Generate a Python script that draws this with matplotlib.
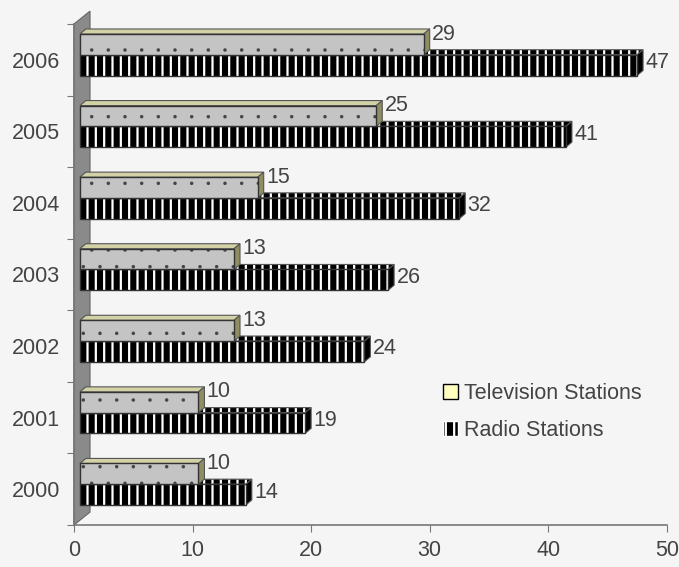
import matplotlib.pyplot as plt
from matplotlib.patches import Polygon, Rectangle, Patch

years = ['2000', '2001', '2002', '2003', '2004', '2005', '2006']
tv = [10, 10, 13, 13, 15, 25, 29]
radio = [14, 19, 24, 26, 32, 41, 47]

plt.rcParams['font.family'] = ['Liberation Sans', 'DejaVu Sans']
plt.rcParams['hatch.linewidth'] = 1.6
txt = '#444444'
bg = '#f5f5f5'

fig = plt.figure(figsize=(6.79, 5.67), dpi=100, facecolor=bg)
ax = fig.add_axes([0.109, 0.0741, 0.873, 0.8836], facecolor=bg)
ax.set_xlim(0, 50)
ax.set_ylim(-0.5, 6.5)

# 3d offsets (data units)
ox, oy = 0.5, 0.07     # front plane shift
dx, dy = 0.5, 0.07     # bar depth
h = 0.29

# back wall
wall = Polygon([(0, -0.5), (1.35, -0.32), (1.35, 6.68), (0, 6.5)],
               closed=True, facecolor='#8a8a8a', edgecolor='#666666',
               lw=0.8, clip_on=False, zorder=1)
ax.add_patch(wall)


def bar3d(x0, x1, y0, y1, front, top, side, hatch, hcol, z, hlw):
    # top face
    ax.add_patch(Polygon([(x0, y1), (x1, y1), (x1 + dx, y1 + dy), (x0 + dx, y1 + dy)],
                         facecolor=top, edgecolor=hcol if hatch == '||' else '#707050',
                         hatch=hatch if hatch == '||' else None, lw=0, zorder=z, clip_on=False))
    ax.add_patch(Polygon([(x0, y1), (x1, y1), (x1 + dx, y1 + dy), (x0 + dx, y1 + dy)],
                         fill=False, edgecolor='#555555', lw=0.8, zorder=z, clip_on=False))
    # side face
    ax.add_patch(Polygon([(x1, y0), (x1, y1), (x1 + dx, y1 + dy), (x1 + dx, y0 + dy)],
                         facecolor=side, edgecolor='#555555', lw=0.8, zorder=z, clip_on=False))
    # front face
    p = Rectangle((x0, y0), x1 - x0, y1 - y0, facecolor=front,
                  edgecolor=hcol, hatch=hatch, lw=0, zorder=z + 0.1)
    if hasattr(p, 'set_hatch_linewidth'):
        p.set_hatch_linewidth(hlw)
    ax.add_patch(p)
    ax.add_patch(Rectangle((x0, y0), x1 - x0, y1 - y0, fill=False,
                           edgecolor='#333333', lw=1.0, zorder=z + 0.2))


for i in range(len(years)):
    c = i
    z = 10 + (len(years) - i) * 2
    bar3d(ox, ox + radio[i], c - h + oy, c + oy, 'black', 'black', 'black', '||', 'white', z, 1.6)
    bar3d(ox, ox + tv[i], c + oy, c + h + oy, '#c4c4c4', '#d2d2a6', '#8e8e62', '.', '#444444', z + 1, 0.1)
    ax.text(tv[i] + 1.2, c + 0.36, str(tv[i]), fontsize=15.5, color=txt,
            ha='left', va='center', zorder=40)
    ax.text(radio[i] + 1.2, c - 0.04, str(radio[i]), fontsize=15.5, color=txt,
            ha='left', va='center', zorder=40)

# axes styling
for s in ['top', 'right']:
    ax.spines[s].set_visible(False)
for s in ['left', 'bottom']:
    ax.spines[s].set_color('#777777')
    ax.spines[s].set_linewidth(1.2)
ax.set_xticks(range(0, 51, 10))
ax.tick_params(axis='x', length=5, color='#777777', labelsize=15.5,
               labelcolor=txt, pad=6)
ax.set_yticks([i - 0.5 for i in range(len(years) + 1)])
ax.set_yticklabels([])
ax.set_yticks(range(len(years)), minor=True)
ax.set_yticklabels(years, minor=True)
ax.tick_params(axis='y', which='major', length=5, color='#777777')
ax.tick_params(axis='y', which='minor', length=0, labelsize=15.5,
               labelcolor=txt, pad=10)

handles = [Patch(facecolor='#ffffc0', edgecolor='black', lw=1.0),
           Patch(facecolor='black', edgecolor='white', hatch='||', lw=1.0)]
leg = fig.legend(handles, ['Television Stations', 'Radio Stations'],
                 loc='upper left', bbox_to_anchor=(432 / 679, 1 - 372 / 567),
                 frameon=False, fontsize=15.5, handlelength=0.7, handleheight=0.7,
                 handletextpad=0.3, labelspacing=0.75, borderpad=0)
for t in leg.get_texts():
    t.set_color(txt)

fig.savefig('out.png', dpi=100, facecolor=bg)
